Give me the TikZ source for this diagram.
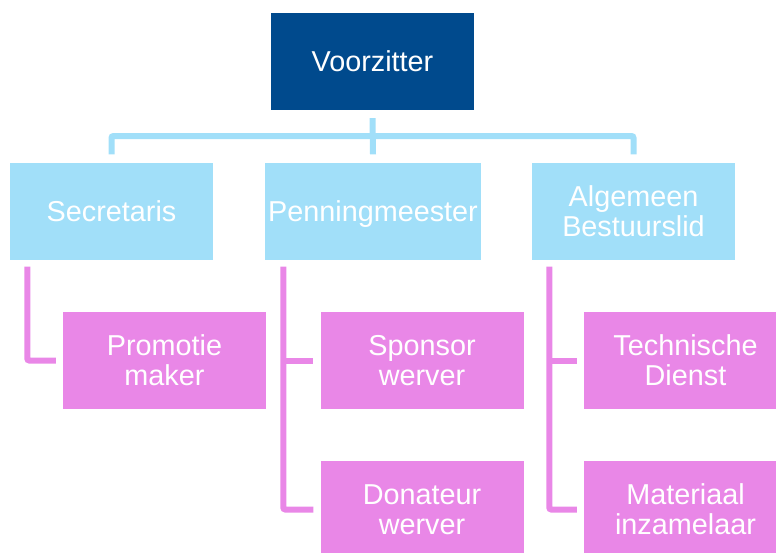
\documentclass[tikz,border=0pt]{standalone}
\usepackage{fontspec}
\setmainfont{Liberation Sans}
\usepackage{tikz}
\usetikzlibrary{calc,positioning}

\definecolor{donkerblauw}{HTML}{004A8D}
\definecolor{lichtblauw}{HTML}{A1DFF9}
\definecolor{roze}{HTML}{E987E7}

\tikzset{
	functie/.style={rectangle, inner sep=0pt, minimum width=203pt, minimum height=97pt, align=center, text=white, font=\fontsize{28.8}{30}\selectfont},
	bestuur/.style={functie, fill=lichtblauw},
	taak/.style={functie, fill=roze},
	blauwlijn/.style={draw=lichtblauw, line width=6pt, rounded corners=2pt},
	rozelijn/.style={draw=roze, line width=6pt, rounded corners=2pt}
}

\begin{document}
\begin{tikzpicture}[x=1pt,y=-1pt]
	\useasboundingbox (0,0) rectangle (776,552);
	\node[functie, fill=donkerblauw] (voorzitter) at (372.5,61.5) {Voorzitter}; % top
	\node[bestuur] (secretaris) at (111.5,211) {Secretaris};
	\node[bestuur, minimum width=216pt, text depth=0pt] (penning) at (373,211) {Penningmeester};
	\node[bestuur] (algemeen) at (633.5,211) {Algemeen\\Bestuurslid};
	\node[taak] (promotie) at (164.5,360.5) {Promotie\\maker};
	\node[taak] (sponsor) at (422,360.5) {Sponsor\\werver};
	\node[taak] (donateur) at (422,509.5) {Donateur\\werver};
	\node[taak] (techniek) at (685.5,360.5) {Technische\\Dienst};
	\node[taak] (materiaal) at (685.5,509.5) {Materiaal\\inzamelaar};
	\coordinate (balk) at (372.5,136); % horizontale balk
	\draw[blauwlijn] ([yshift=-8pt]voorzitter.south) -- ([yshift=8pt]penning.north);
	\draw[blauwlijn] ([yshift=8pt]secretaris.north) |- (balk) -| ([yshift=8pt]algemeen.north);
	\coordinate (S) at ([xshift=17.5pt,yshift=-7pt]secretaris.south west);
	\coordinate (P) at ([xshift=18.5pt,yshift=-7pt]penning.south west);
	\coordinate (A) at ([xshift=17.5pt,yshift=-7pt]algemeen.south west);
	\draw[rozelijn] (S) |- ([xshift=-7pt]promotie.west);
	\draw[rozelijn] (P) |- ([xshift=-7pt]donateur.west);
	\draw[rozelijn] (P |- sponsor.west) -- ([xshift=-7pt]sponsor.west);
	\draw[rozelijn] (A) |- ([xshift=-7pt]materiaal.west);
	\draw[rozelijn] (A |- techniek.west) -- ([xshift=-7pt]techniek.west);
\end{tikzpicture}
\end{document}
